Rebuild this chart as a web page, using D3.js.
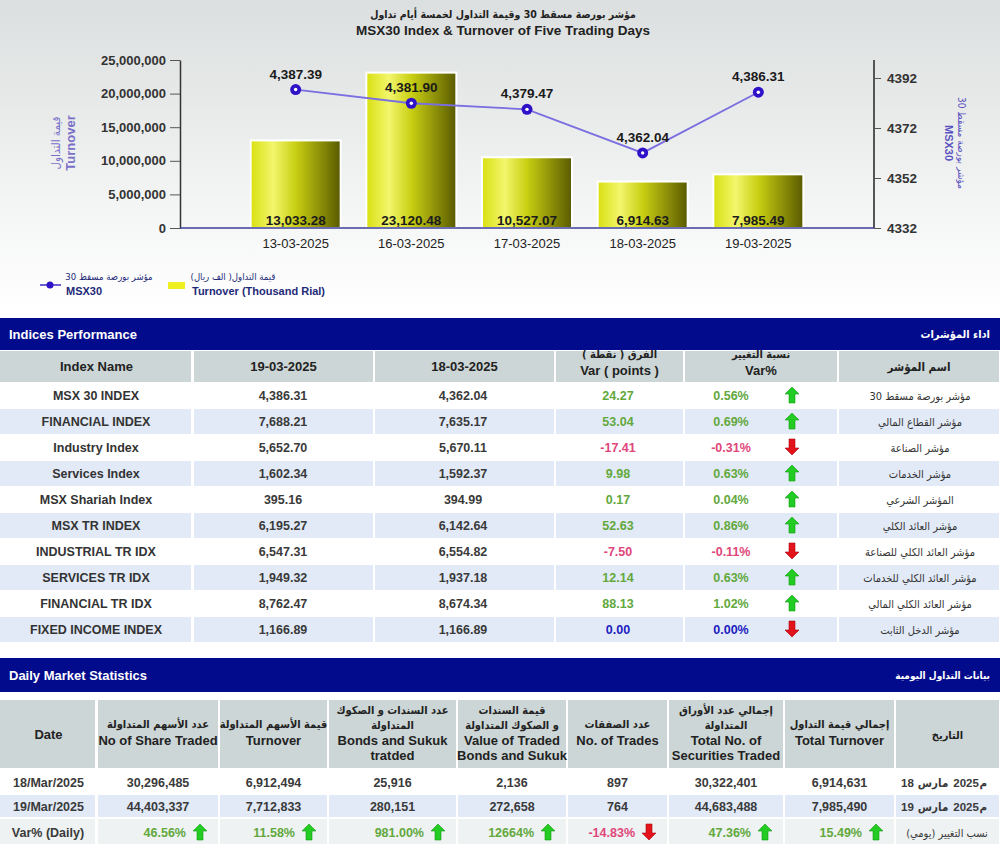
<!DOCTYPE html>
<html>
<head>
<meta charset="utf-8">
<script src="https://cdn.jsdelivr.net/npm/d3@7"></script>
<style>
  body { margin: 0; background: #fff; }
  svg { display: block; font-family: "Liberation Sans", Arial, "DejaVu Sans", sans-serif; }
  .ar { font-family: "DejaVu Sans Condensed", "DejaVu Sans", sans-serif; direction: rtl; }
</style>
</head>
<body>
<svg id="page" width="1000" height="849"></svg>
<script>
// chart data
var dates = ["13-03-2025", "16-03-2025", "17-03-2025", "18-03-2025", "19-03-2025"];
var turnover = [13033.28, 23120.48, 10527.07, 6914.63, 7985.49]; // thousand rial
var msx30 = [4387.39, 4381.90, 4379.47, 4362.04, 4386.31];
var leftTicks = [0, 5000000, 10000000, 15000000, 20000000, 25000000];
var rightTicks = [4332, 4352, 4372, 4392];

// indices table
var idxNames = ["MSX 30 INDEX", "FINANCIAL INDEX", "Industry Index", "Services Index", "MSX Shariah Index",
  "MSX TR INDEX", "INDUSTRIAL TR IDX", "SERVICES TR IDX", "FINANCIAL TR IDX", "FIXED INCOME INDEX"];
var idxNamesAr = ["مؤشر بورصة مسقط 30", "مؤشر القطاع المالي", "مؤشر الصناعة", "مؤشر الخدمات", "المؤشر الشرعي",
  "مؤشر العائد الكلي", "مؤشر العائد الكلي للصناعة", "مؤشر العائد الكلي للخدمات", "مؤشر العائد الكلي المالي", "مؤشر الدخل الثابت"];
var idx19 = ["4,386.31", "7,688.21", "5,652.70", "1,602.34", "395.16", "6,195.27", "6,547.31", "1,949.32", "8,762.47", "1,166.89"];
var idx18 = ["4,362.04", "7,635.17", "5,670.11", "1,592.37", "394.99", "6,142.64", "6,554.82", "1,937.18", "8,674.34", "1,166.89"];
var varPoints = [24.27, 53.04, -17.41, 9.98, 0.17, 52.63, -7.50, 12.14, 88.13, 0.00];
var varPct = [0.56, 0.69, -0.31, 0.63, 0.04, 0.86, -0.11, 0.63, 1.02, 0.00];

// daily statistics table
var dailyDates = ["18/Mar/2025", "19/Mar/2025"];
var dailyDatesAr = [["18", "مارس", "2025", "م"], ["19", "مارس", "2025", "م"]]; // pieces, left to right
var sharesTraded = ["30,296,485", "44,403,337"];
var shareTurnover = ["6,912,494", "7,712,833"];
var bondsTraded = ["25,916", "280,151"];
var bondsValue = ["2,136", "272,658"];
var numTrades = ["897", "764"];
var totalSecurities = ["30,322,401", "44,683,488"];
var totalTurnover = ["6,914,631", "7,985,490"];
var dailyVar = ["46.56%", "11.58%", "981.00%", "12664%", "-14.83%", "47.36%", "15.49%"];

var svg = d3.select("#page");
var defs = svg.append("defs");
var fmt2 = function(v) { return d3.format(".2f")(v).replace("\u2212", "-"); };

var bg = defs.append("linearGradient").attr("id", "bg").attr("x1", 0).attr("y1", 0).attr("x2", 0).attr("y2", 1);
bg.append("stop").attr("offset", "0%").attr("stop-color", "#dcdfdf");
bg.append("stop").attr("offset", "100%").attr("stop-color", "#ffffff");

var barGrad = defs.append("linearGradient").attr("id", "barGrad");
barGrad.append("stop").attr("offset", "0%").attr("stop-color", "#d9e010");
barGrad.append("stop").attr("offset", "25%").attr("stop-color", "#f2f66c");
barGrad.append("stop").attr("offset", "50%").attr("stop-color", "#c9cf12");
barGrad.append("stop").attr("offset", "100%").attr("stop-color", "#595a00");

svg.append("rect").attr("x", 0).attr("y", 0).attr("width", 1000).attr("height", 308).attr("fill", "url(#bg)");

// titles
svg.append("text").attr("class", "ar").attr("x", 503).attr("y", 18).attr("text-anchor", "middle")
  .attr("font-size", 10.5).attr("font-weight", "bold").attr("fill", "#222")
  .text("مؤشر بورصة مسقط 30 وقيمة التداول لخمسة أيام تداول");
svg.append("text").attr("x", 503).attr("y", 35).attr("text-anchor", "middle")
  .attr("font-size", 13.5).attr("font-weight", "bold").attr("fill", "#222")
  .text("MSX30 Index & Turnover of Five Trading Days");

var x = d3.scalePoint().domain(dates).range([180, 874]).padding(1);
var yL = d3.scaleLinear().domain([0, 25000000]).range([228, 60]);
var yR = d3.scaleLinear().domain([4332, 4392]).range([228, 78]);

// bars
var bars = svg.append("g");
bars.selectAll("rect").data(turnover).enter().append("rect")
  .attr("x", function(d, i) { return x(dates[i]) - 45; })
  .attr("y", function(d) { return yL(d * 1000); })
  .attr("width", 90)
  .attr("height", function(d) { return yL(0) - yL(d * 1000); })
  .attr("fill", "url(#barGrad)")
  .attr("stroke", "#fff").attr("stroke-width", 2);
bars.selectAll("text").data(turnover).enter().append("text")
  .attr("x", function(d, i) { return x(dates[i]); })
  .attr("y", 225).attr("text-anchor", "middle")
  .attr("font-size", 13.5).attr("font-weight", "bold").attr("fill", "#1c1c1c")
  .text(function(d) { return d3.format(",.2f")(d); });

// left axis
var axL = svg.append("g").attr("transform", "translate(180,0)")
  .call(d3.axisLeft(yL).tickValues(leftTicks).tickFormat(d3.format(",")).tickSize(10).tickSizeOuter(0).tickPadding(4));
axL.select(".domain").attr("stroke", "#333").attr("stroke-width", 1.5);
axL.selectAll(".tick line").attr("stroke", "#555");
axL.selectAll("text").attr("font-size", 13).attr("font-weight", "bold").attr("fill", "#333").attr("font-family", null);

// right axis
var axR = svg.append("g").attr("transform", "translate(874,0)")
  .call(d3.axisRight(yR).tickValues(rightTicks).tickFormat(d3.format("d")).tickSize(7).tickSizeOuter(0).tickPadding(6));
axR.select(".domain").remove();
axR.append("line").attr("x1", 0).attr("x2", 0).attr("y1", 60).attr("y2", 228).attr("stroke", "#555").attr("stroke-width", 2);
axR.selectAll(".tick line").attr("stroke", "#555");
axR.selectAll("text").attr("font-size", 13.5).attr("font-weight", "bold").attr("fill", "#333").attr("font-family", null);

// baseline
svg.append("line").attr("x1", 180).attr("x2", 874).attr("y1", yL(0)).attr("y2", yL(0))
  .attr("stroke", "#3c3c9a").attr("stroke-width", 1.5);

// x labels
svg.append("g").selectAll("text").data(dates).enter().append("text")
  .attr("x", function(d) { return x(d); }).attr("y", 248).attr("text-anchor", "middle")
  .attr("font-size", 13).attr("fill", "#222").text(function(d) { return d; });

// axis titles
svg.append("text").attr("class", "ar").attr("transform", "translate(60,143) rotate(-90)").attr("text-anchor", "middle")
  .attr("font-size", 11.5).attr("fill", "#7a70c8").text("قيمة التداول");
svg.append("text").attr("transform", "translate(75,143) rotate(-90)").attr("text-anchor", "middle")
  .attr("font-size", 13).attr("font-weight", "bold").attr("fill", "#7a70c8").text("Turnover");
svg.append("text").attr("class", "ar").attr("transform", "translate(958,143) rotate(90)").attr("text-anchor", "middle")
  .attr("font-size", 10).attr("fill", "#5a52c0").text("مؤشر بورصة مسقط 30");
svg.append("text").attr("transform", "translate(945,143) rotate(90)").attr("text-anchor", "middle")
  .attr("font-size", 11).attr("font-weight", "bold").attr("fill", "#5a52c0").text("MSX30");

// line series
var line = d3.line().x(function(d, i) { return x(dates[i]); }).y(function(d) { return yR(d); });
svg.append("path").datum(msx30).attr("d", line).attr("fill", "none")
  .attr("stroke", "#7a6ee0").attr("stroke-width", 1.8);
var pts = svg.append("g").selectAll("g").data(msx30).enter().append("g")
  .attr("transform", function(d, i) { return "translate(" + x(dates[i]) + "," + yR(d) + ")"; });
pts.append("circle").attr("r", 5.5).attr("fill", "#2f12c8");
pts.append("circle").attr("r", 1.7).attr("fill", "#fff");
pts.append("text").attr("y", -11).attr("text-anchor", "middle")
  .attr("font-size", 13.5).attr("font-weight", "bold").attr("fill", "#1a1a1a")
  .text(function(d) { return d3.format(",.2f")(d); });

// legend
var lg = svg.append("g");
lg.append("line").attr("x1", 40).attr("x2", 61).attr("y1", 285).attr("y2", 285).attr("stroke", "#5a4fd0").attr("stroke-width", 1.8);
lg.append("circle").attr("cx", 50).attr("cy", 285).attr("r", 3.5).attr("fill", "#2f12c8");
lg.append("text").attr("class", "ar").attr("x", 109).attr("y", 280).attr("text-anchor", "middle").attr("font-size", 9.5).attr("fill", "#1e2a78").text("مؤشر بورصة مسقط 30");
lg.append("text").attr("x", 66).attr("y", 295).attr("font-size", 11).attr("font-weight", "bold").attr("fill", "#1e2a78").text("MSX30");
lg.append("rect").attr("x", 168).attr("y", 282).attr("width", 17).attr("height", 7).attr("fill", "#eef020");
lg.append("text").attr("class", "ar").attr("x", 233).attr("y", 280).attr("text-anchor", "middle").attr("font-size", 9.5).attr("fill", "#1e2a78").text("قيمة التداول( الف ريال)");
lg.append("text").attr("x", 192).attr("y", 295).attr("font-size", 11).attr("font-weight", "bold").attr("fill", "#1e2a78").text("Turnover (Thousand Rial)");

// arrows
function arrow(g, cx, cy, up) {
  var p = up
    ? "M0,-8 L7,-1 L3,-1 L3,8 L-3,8 L-3,-1 L-7,-1 Z"
    : "M0,8 L7,1 L3,1 L3,-8 L-3,-8 L-3,1 L-7,1 Z";
  g.append("path").attr("d", p).attr("transform", "translate(" + cx + "," + cy + ")")
    .attr("fill", up ? "#22cc22" : "#e4121a").attr("stroke", up ? "#129a12" : "#a80c10").attr("stroke-width", 0.6);
}
function varColor(v) { return v > 0 ? "#62a83c" : (v < 0 ? "#e0467a" : "#1c1cc0"); }

function banner(y, h, title, titleAr, arSize) {
  svg.append("rect").attr("x", 0).attr("y", y).attr("width", 1000).attr("height", h).attr("fill", "#020b8c");
  svg.append("text").attr("x", 9).attr("y", y + h / 2 + 5).attr("font-size", 13).attr("font-weight", "bold").attr("fill", "#fff").text(title);
  svg.append("text").attr("class", "ar").attr("x", 990).attr("y", y + h / 2 + 4).attr("text-anchor", "start").attr("font-size", arSize).attr("font-weight", "bold").attr("fill", "#fff").text(titleAr);
}

// indices performance table
banner(318, 32, "Indices Performance", "اداء المؤشرات", 11);
var ic = [0, 193, 374, 555, 684, 838, 1000];
var it = svg.append("g");
var idxHead = [["Index Name"], ["19-03-2025"], ["18-03-2025"], ["الفرق ( نقطة )", "Var ( points )"], ["نسبة التغيير", "Var%"], ["اسم المؤشر"]];
idxHead.forEach(function(lines, c) {
  it.append("rect").attr("x", ic[c] + (c ? 1 : 0)).attr("y", 351).attr("width", ic[c + 1] - ic[c] - 2).attr("height", 31).attr("fill", "#ccd6d6");
  var cx = (ic[c] + ic[c + 1]) / 2;
  if (lines.length === 1) {
    it.append("text").attr("class", c === 5 ? "ar" : null).attr("x", cx).attr("y", 371).attr("text-anchor", "middle")
      .attr("font-size", c === 5 ? 11.5 : 13).attr("font-weight", "bold").attr("fill", "#222").text(lines[0]);
  } else {
    it.append("text").attr("class", "ar").attr("x", cx).attr("y", 358).attr("text-anchor", "middle").attr("font-size", 11).attr("font-weight", "bold").attr("fill", "#222").text(lines[0]);
    it.append("text").attr("x", cx).attr("y", 375).attr("text-anchor", "middle").attr("font-size", 13).attr("font-weight", "bold").attr("fill", "#222").text(lines[1]);
  }
});
idxNames.forEach(function(name, r) {
  var y0 = 382 + r * 26;
  if (r % 2 === 1) {
    for (var c = 0; c < 6; c++) {
      it.append("rect").attr("x", ic[c] + (c ? 1 : 0)).attr("y", y0 + 1).attr("width", ic[c + 1] - ic[c] - 2).attr("height", 25).attr("fill", "#e2eaf8");
    }
  }
  var ty = y0 + 17.5;
  function cell(xp, txt, fill) {
    it.append("text").attr("x", xp).attr("y", ty).attr("text-anchor", "middle")
      .attr("font-size", 12.5).attr("font-weight", "bold").attr("fill", fill || "#333").text(txt);
  }
  cell(96, name);
  cell(283, idx19[r], "#3a3a3a");
  cell(463, idx18[r], "#3a3a3a");
  cell(618, fmt2(varPoints[r]), varColor(varPoints[r]));
  cell(731, fmt2(varPct[r]) + "%", varColor(varPct[r]));
  arrow(it, 792, y0 + 13, varPct[r] > 0);
  it.append("text").attr("class", "ar").attr("x", 920).attr("y", ty).attr("text-anchor", "middle")
    .attr("font-size", 11).attr("fill", "#333").text(idxNamesAr[r]);
});

// daily market statistics table
banner(658, 34, "Daily Market Statistics", "بيانات التداول اليومية", 10);
var dc = [0, 97, 219, 328, 457, 567, 668, 784, 895, 1000];
var dt = svg.append("g");
var dailyHead = [
  [["Date", "en"]],
  [["عدد الأسهم المتداولة", "ar"], ["No of Share Traded", "en"]],
  [["قيمة الأسهم المتداولة", "ar"], ["Turnover", "en"]],
  [["عدد السندات و الصكوك", "ar"], ["المتداولة", "ar"], ["Bonds and Sukuk", "en"], ["tratded", "en"]],
  [["قيمة السندات", "ar"], ["و الصكوك المتداولة", "ar"], ["Value of Traded", "en"], ["Bonds and Sukuk", "en"]],
  [["عدد الصفقات", "ar"], ["No. of Trades", "en"]],
  [["إجمالي عدد الأوراق", "ar"], ["المتداولة", "ar"], ["Total No. of", "en"], ["Securities Traded", "en"]],
  [["إجمالي قيمة التداول", "ar"], ["Total Turnover", "en"]],
  [["التاريخ", "ar"]]
];
dailyHead.forEach(function(lines, c) {
  dt.append("rect").attr("x", dc[c] + (c ? 1 : 0)).attr("y", 700).attr("width", dc[c + 1] - dc[c] - 2).attr("height", 68).attr("fill", "#ccd6d6");
  var cx = (dc[c] + dc[c + 1]) / 2;
  var ys = lines.length === 1 ? [739] : (lines.length === 2 ? [728, 745] : [714, 729, 745, 760]);
  lines.forEach(function(l, k) {
    dt.append("text").attr("class", l[1] === "ar" ? "ar" : null).attr("x", cx).attr("y", ys[k]).attr("text-anchor", "middle")
      .attr("font-size", l[1] === "en" ? 13 : 11).attr("font-weight", "bold").attr("fill", "#222").text(l[0]);
  });
});
var dailyRows = [
  [dailyDates[0], sharesTraded[0], shareTurnover[0], bondsTraded[0], bondsValue[0], numTrades[0], totalSecurities[0], totalTurnover[0]],
  [dailyDates[1], sharesTraded[1], shareTurnover[1], bondsTraded[1], bondsValue[1], numTrades[1], totalSecurities[1], totalTurnover[1]]
];
var rowY = [769, 795, 819];
var rowH = [26, 23, 26];
var rowFill = ["#ffffff", "#e2eaf8", "#eef2f2"];
rowY.forEach(function(y0, r) {
  for (var c = 0; c < 9; c++) {
    dt.append("rect").attr("x", dc[c] + (c ? 1 : 0)).attr("y", y0).attr("width", dc[c + 1] - dc[c] - 2).attr("height", rowH[r] - 1).attr("fill", rowFill[r]);
  }
});
dailyRows.forEach(function(row, r) {
  var ty = rowY[r] + rowH[r] / 2 + 4.5;
  row.forEach(function(v, c) {
    dt.append("text").attr("x", (dc[c] + dc[c + 1]) / 2).attr("y", ty).attr("text-anchor", "middle")
      .attr("font-size", 12.5).attr("font-weight", "bold").attr("fill", "#3a3a3a").text(v);
  });
  // arabic date laid out piece by piece, left to right
  var gaps = [4, 5, 0.5, 0];
  var pieces = dailyDatesAr[r].map(function(p) {
    return dt.append("text").attr("y", ty).attr("font-size", 11.5).attr("font-weight", "bold").attr("fill", "#3a3a3a")
      .attr("font-family", /[0-9]/.test(p) ? null : "\"DejaVu Sans Condensed\", \"DejaVu Sans\", sans-serif").text(p);
  });
  var widths = pieces.map(function(s) { return s.node().getComputedTextLength(); });
  var total = d3.sum(widths) + d3.sum(gaps);
  var px = 944 - total / 2;
  pieces.forEach(function(s, k) {
    s.attr("x", px);
    px += widths[k] + gaps[k];
  });
});
var vy = rowY[2] + rowH[2] / 2 + 4.5;
dt.append("text").attr("x", 48).attr("y", vy).attr("text-anchor", "middle").attr("font-size", 12.5).attr("font-weight", "bold").attr("fill", "#3a3a3a").text("Var% (Daily)");
dt.append("text").attr("class", "ar").attr("x", 947).attr("y", vy).attr("text-anchor", "middle").attr("font-size", 11).attr("fill", "#3a3a3a").text("نسب التغيير (يومي)");
dailyVar.forEach(function(v, k) {
  var c = k + 1;
  var ax = dc[c + 1] - 19;
  var num = parseFloat(v);
  dt.append("text").attr("x", ax - 14).attr("y", vy).attr("text-anchor", "end")
    .attr("font-size", 12.5).attr("font-weight", "bold").attr("fill", varColor(num)).text(v);
  arrow(dt, ax, rowY[2] + rowH[2] / 2, num > 0);
});
</script>
</body>
</html>
